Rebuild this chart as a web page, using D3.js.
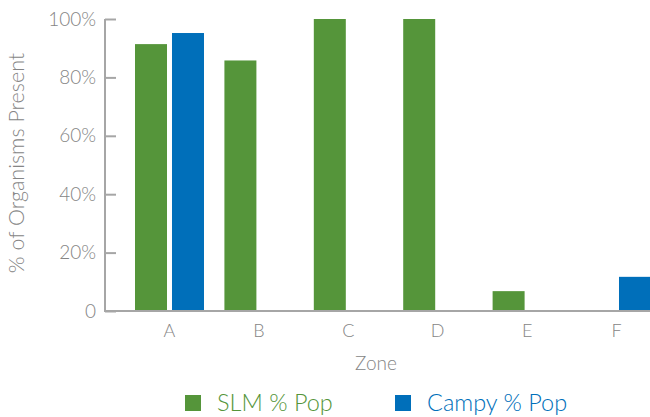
<!DOCTYPE html>
<html><head><meta charset="utf-8">
<script src="https://cdn.jsdelivr.net/npm/d3@7"></script>
<style>body{margin:0;background:#fff;} svg{display:block;font-family:Lato, "Open Sans", sans-serif;font-weight:300;}</style>
</head><body>
<svg id="chart" width="650" height="417"></svg>
<script>
const zones = ["A","B","C","D","E","F"];
const seriesNames = ["SLM % Pop","Campy % Pop"];
const slmValues = [0.914, 0.858, 1.0, 1.0, 0.068, 0];
const campyValues = [0.952, 0, 0, 0, 0, 0.117];
const yTicks = [0, 0.2, 0.4, 0.6, 0.8, 1.0];
const yTickLabels = ["0","20%","40%","60%","80%","100%"];
const colors = ["#55953a","#006fba"];

const svg = d3.select("#chart");
const axisColor = "#a6a6a6", textColor = "#858585";

const x0 = d3.scaleBand().domain(zones).range([124.8, 661.2]);
const x1 = d3.scaleBand().domain(seriesNames).range([0, x0.bandwidth()]).paddingInner(0.135).paddingOuter(0.276);
const y = d3.scaleLinear().domain([0,1]).range([311, 19]);

const rows = zones.map((z,i)=>({zone:z, vals:[slmValues[i], campyValues[i]]}));

// bars
const g = svg.append("g");
rows.forEach(r=>{
  r.vals.forEach((v,j)=>{
    if(v<=0) return;
    g.append("rect")
      .attr("x", x0(r.zone)+x1(seriesNames[j]))
      .attr("y", y(v))
      .attr("width", x1.bandwidth())
      .attr("height", y(0)-y(v))
      .attr("fill", colors[j]);
  });
});

// y axis
const yAxis = d3.axisRight(y).tickValues(yTicks).tickSize(11).tickFormat("");
const ya = svg.append("g").attr("transform","translate(105,0)").call(yAxis);
ya.select(".domain").attr("stroke",axisColor).attr("stroke-width",2).attr("d","M0,19V311");
ya.selectAll(".tick line").attr("stroke",axisColor).attr("stroke-width",2);
svg.append("g").selectAll("text").data(yTicks).join("text")
  .attr("x",96).attr("y",d=>y(d)+6.5)
  .attr("text-anchor","end").attr("fill",textColor).attr("font-size",19)
  .text((d,i)=>yTickLabels[i]);

// x axis
const xAxis = d3.axisBottom(x0).tickSize(0).tickPadding(13);
const xa = svg.append("g").attr("transform","translate(0,311)").call(xAxis);
xa.select(".domain").attr("stroke",axisColor).attr("stroke-width",2).attr("d","M104,0H650");
xa.selectAll(".tick text").attr("fill",textColor).attr("font-size",18).attr("font-family","Lato, sans-serif").attr("font-weight",300);

// axis titles
svg.append("text").attr("x",376).attr("y",369.5).attr("text-anchor","middle")
  .attr("fill",textColor).attr("font-size",19).text("Zone");
svg.append("text").attr("transform","translate(24,163) rotate(-90)").attr("text-anchor","middle")
  .attr("fill",textColor).attr("font-size",21.5).text("% of Organisms Present");

// legend
const legendX = [185, 395];
seriesNames.forEach((s,i)=>{
  svg.append("rect").attr("x",legendX[i]).attr("y",395).attr("width",16).attr("height",16).attr("fill",colors[i]);
  svg.append("text").attr("x",legendX[i]+32).attr("y",410.5).attr("fill",colors[i]).attr("font-size",23.5).text(s);
});
</script>
</body></html>
